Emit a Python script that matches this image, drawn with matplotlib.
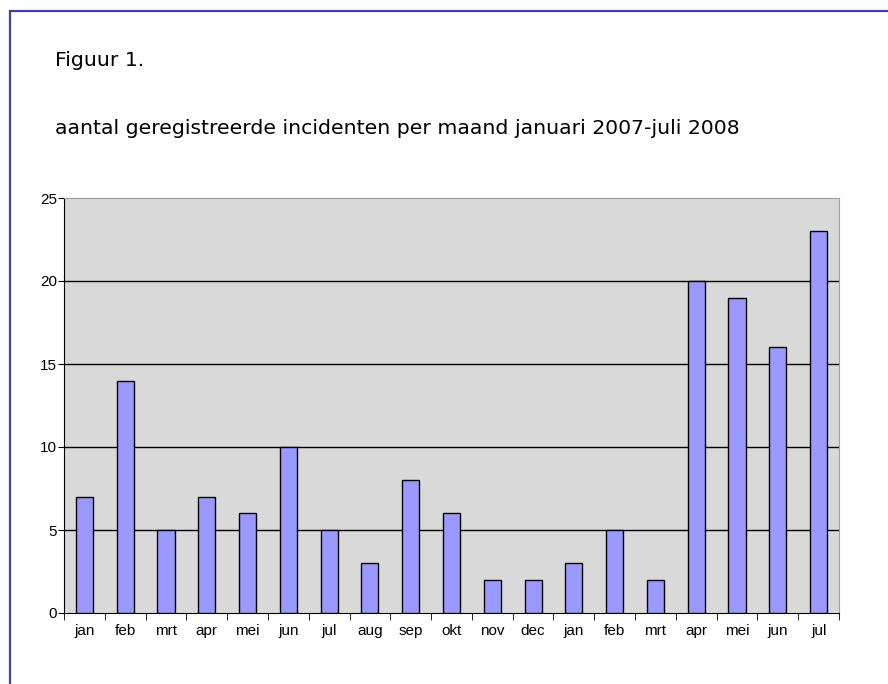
"""Figuur 1: aantal geregistreerde incidenten per maand, jan 2007 - jul 2008."""

import matplotlib
matplotlib.use("Agg")
import matplotlib.pyplot as plt
from matplotlib.patches import Rectangle
from matplotlib.ticker import FixedLocator, NullFormatter
import numpy as np

months = ["jan", "feb", "mrt", "apr", "mei", "jun", "jul", "aug", "sep", "okt",
          "nov", "dec", "jan", "feb", "mrt", "apr", "mei", "jun", "jul"]
incidents = [7, 14, 5, 7, 6, 10, 5, 3, 8, 6, 2, 2, 3, 5, 2, 20, 19, 16, 23]
y_ticks = [0, 5, 10, 15, 20, 25]

W, H = 888, 684
fig = plt.figure(figsize=(W / 100, H / 100), dpi=100)

# outer frame (cut off at right and bottom)
fig.patches.append(Rectangle((9.5 / W, -0.05), 1.1, 1 - 10.5 / H + 0.05,
                             transform=fig.transFigure, fill=False,
                             edgecolor="#4040a0", linewidth=1.6))

fig.text(55 / W, 1 - 61 / H, "Figuur 1.", fontsize=14.7, family="DejaVu Sans",
         va="center", ha="left")
fig.text(55 / W, 1 - 129 / H,
         "aantal geregistreerde incidenten per maand januari 2007-juli 2008",
         fontsize=14.7, family="DejaVu Sans", va="center", ha="left")

ax = fig.add_axes([64 / W, 1 - 613 / H, (839 - 64) / W, (613 - 198) / H])
ax.set_facecolor("#d9d9d9")
x = np.arange(len(months))
ax.bar(x, incidents, width=0.42, color="#9999ff", edgecolor="black",
       linewidth=1.0, zorder=3)
ax.set_xlim(-0.5, len(months) - 0.5)
ax.set_ylim(0, 25)
ax.set_yticks(y_ticks)
for v in y_ticks[1:-1]:
    ax.axhline(v, color="black", linewidth=1.0, zorder=2)

ax.set_xticks(x)
ax.set_xticklabels(months, family="Liberation Sans", fontsize=11)
ax.tick_params(axis="x", which="major", length=0, pad=8)
ax.xaxis.set_minor_locator(FixedLocator(np.arange(-0.5, len(months), 1.0)))
ax.xaxis.set_minor_formatter(NullFormatter())
ax.tick_params(axis="x", which="minor", length=5, direction="out", color="black")
ax.tick_params(axis="y", length=4, direction="out", pad=1, labelsize=11)
for lab in ax.get_yticklabels():
    lab.set_family("Liberation Sans")

ax.spines["left"].set_color("black")
ax.spines["bottom"].set_color("black")
ax.spines["top"].set_color("#a0a0a0")
ax.spines["right"].set_color("#a0a0a0")

fig.savefig("out.png", dpi=100)
